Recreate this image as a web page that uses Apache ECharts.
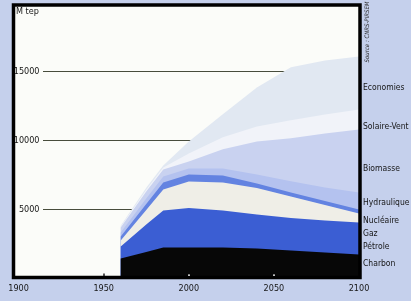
<!DOCTYPE html>
<html>
<head>
<meta charset="utf-8">
<script src="https://cdn.jsdelivr.net/npm/echarts@6/dist/echarts.min.js"></script>
<style>
  html, body { margin: 0; padding: 0; background: #c5d0ec; }
  #main { width: 411px; height: 301px; }
</style>
</head>
<body>
<div id="main"></div>
<script>
// world energy supply (M tep), layers from bottom to top
let years = [1960, 1975, 1985, 2000, 2020, 2040, 2060, 2080, 2100];
let charbon = [1450, 1920, 2250, 2250, 2250, 2170, 2030, 1880, 1740];
let petrole = [870, 1990, 2680, 2860, 2680, 2460, 2360, 2320, 2320];
let gaz = [430, 1050, 1520, 1920, 2030, 1920, 1560, 1120, 650];
let nucleaire = [290, 430, 510, 510, 510, 330, 290, 290, 290];
let hydraulique = [290, 400, 430, 430, 510, 650, 800, 980, 1230];
let biomasse = [360, 510, 510, 510, 1380, 2390, 3120, 3910, 4560];
let solaireVent = [70, 140, 140, 580, 870, 1090, 1300, 1380, 1450];
let economies = [70, 140, 140, 870, 1670, 2830, 3840, 3910, 3840];

let layerNames = ['Charbon', 'Pétrole', 'Gaz', 'Nucléaire', 'Hydraulique', 'Biomasse', 'Solaire-Vent', 'Economies'];
let xTicks = [1900, 1950, 2000, 2050, 2100];
let yTicks = [5000, 10000, 15000];

let font = "'Liberation Sans Narrow', 'DejaVu Sans Condensed', 'Liberation Sans', sans-serif";
let ink = '#161616';
let colors = ['#070707', '#3b5ed3', '#efeee7', '#6383e1', '#b4c2ef', '#c9d2f0', '#f1f3f9', '#e1e8f2'];
let labelShift = [9, 24, 20, 11, 10, 39, 17, 31]; // spread the end labels

let layers = [charbon, petrole, gaz, nucleaire, hydraulique, biomasse, solaireVent, economies];
let running = years.map(() => 0);
let last = years.length - 1;
let series = layers.map(function (vals, i) {
  running = running.map((s, k) => s + vals[k]);
  return {
    name: layerNames[i],
    type: 'line',
    xAxisIndex: 0,
    yAxisIndex: 0,
    data: years.map((yr, k) => [yr, running[k]]),
    symbol: 'circle',
    symbolSize: 0,
    showSymbol: true,
    clip: false,
    lineStyle: { width: 0 },
    areaStyle: { color: colors[i], opacity: 1 },
    label: {
      show: true,
      position: 'right',
      distance: 4,
      offset: [0, labelShift[i]],
      formatter: p => (p.dataIndex === last ? p.seriesName : ''),
      color: ink,
      fontSize: 8.5,
      fontFamily: font
    },
    emphasis: { disabled: true },
    z: 2
  };
});
// top layers first so the lower ones are painted over them
series.reverse();

let myChart = echarts.init(document.getElementById('main'));
let option = {
  animation: false,
  backgroundColor: '#c5d0ec',
  title: {
    text: 'M tep',
    left: 16,
    top: 7,
    padding: 0,
    textStyle: { fontSize: 9, fontWeight: 'normal', color: ink, fontFamily: font }
  },
  graphic: [{
    type: 'text',
    x: 367,
    y: 32,
    rotation: Math.PI / 2,
    style: {
      text: 'Source : CNRS-PIRSEM',
      align: 'center',
      verticalAlign: 'middle',
      fontSize: 6,
      fontStyle: 'italic',
      fontFamily: font,
      fill: '#222'
    }
  }],
  grid: [
    { left: 13.5, right: 52, top: 5, bottom: 22.5, show: true, backgroundColor: '#fbfcf9', borderWidth: 0, z: 0 },
    { left: 43, right: 52, top: 5, bottom: 22.5 },
    { left: 13.5, right: 51, top: 5, bottom: 23.5, show: true, backgroundColor: 'transparent', borderColor: '#000', borderWidth: 3.5, z: 10 }
  ],
  xAxis: [
    {
      gridIndex: 0, type: 'value', min: 1897, max: 2100, z: 6,
      axisLine: { show: false },
      splitLine: { show: false },
      axisTick: { show: true, inside: true, length: 4, customValues: [2000, 2050], lineStyle: { color: '#fff', width: 2 } },
      axisLabel: { customValues: xTicks, formatter: v => String(v), margin: 6, fontSize: 9, color: ink, fontFamily: font }
    },
    {
      gridIndex: 0, type: 'value', min: 1897, max: 2100, position: 'bottom', z: 6,
      axisLine: { show: false },
      splitLine: { show: false },
      axisLabel: { show: false },
      axisTick: { show: true, inside: true, length: 5, customValues: [1950], lineStyle: { color: '#222', width: 1.5 } }
    },
    { gridIndex: 1, type: 'value', show: false, min: 0, max: 1 },
    { gridIndex: 2, type: 'value', show: false, min: 0, max: 1 }
  ],
  yAxis: [
    {
      gridIndex: 0, type: 'value', min: 0, max: 19820, z: 6,
      axisLine: { show: false },
      axisTick: { show: false },
      splitLine: { show: false },
      axisLabel: { inside: true, align: 'right', margin: 26, customValues: yTicks, formatter: v => String(v), fontSize: 9, color: ink, fontFamily: font }
    },
    {
      gridIndex: 1, type: 'value', min: 0, max: 19820, interval: 5000, z: 1,
      axisLine: { show: false },
      axisTick: { show: false },
      axisLabel: { show: false },
      splitLine: { show: true, lineStyle: { color: '#474c3c', width: 1.2 } }
    },
    { gridIndex: 2, type: 'value', show: false, min: 0, max: 1 }
  ],
  series: series
};

option && myChart.setOption(option);
</script>
</body>
</html>
